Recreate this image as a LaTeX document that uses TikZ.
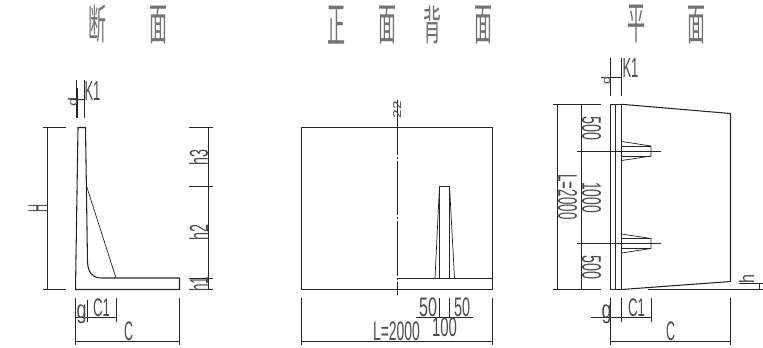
\documentclass[tikz,border=0pt]{standalone}
\usepackage{graphicx}
\usepackage{fontspec}
\setmainfont{Liberation Sans}
\newfontfamily\cjkfont{Noto Sans CJK SC}
\newdimen\cadpx
\cadpx=0.75pt
% width, height in reference pixels, then the text
\newcommand{\cadtext}[3]{\resizebox*{#1\cadpx}{#2\cadpx}{#3}}
\newcommand{\cadtitle}[1]{\resizebox*{18\cadpx}{38\cadpx}{\cjkfont #1}}
\tikzset{
  cadline/.style={line width=0.55pt,black!85},
  cadbold/.style={line width=0.8pt,black!85},
  cadcenter/.style={line width=0.55pt,black!85,dash pattern=on 41pt off 1.5pt on 1.5pt off 1.5pt},
  cadlabel/.style={inner sep=0pt,outer sep=0pt,text=black!70},
  cadhead/.style={inner sep=0pt,outer sep=0pt,text=black!55},
}
\begin{document}
\begin{tikzpicture}[x=0.75pt,y=-0.75pt]
\useasboundingbox (0,0) rectangle (763,347);
% titles
\node[cadhead] (titleA) at (97,24) {\cadtitle{断}};
\node[cadhead] (titleB) at (158,25) {\cadtitle{面}};
\node[cadhead] (titleC) at (336,25) {\cadtitle{正}};
\node[cadhead] (titleD) at (387,25) {\cadtitle{面}};
\node[cadhead] (titleE) at (432,25) {\cadtitle{背}};
\node[cadhead] (titleF) at (483,25) {\cadtitle{面}};
\node[cadhead] (titleG) at (636,24) {\cadtitle{平}};
\node[cadhead] (titleH) at (696,25) {\cadtitle{面}};
% section
\draw[cadbold] (78,127.5) -- (85.5,127.5) -- (87.5,262)
 .. controls (88,272) and (92,278) .. (102,278)
 -- (179.5,278) -- (179.5,289.5) -- (75.5,289.5) -- cycle;
\draw[cadline] (86.5,186) -- (116,278);
% section dimensions
\draw[cadline] (76,80) -- (76,118);
\draw[cadline] (77,88) -- (77,118);
\draw[cadline] (84.5,80) -- (84.5,118);
\draw[cadline] (70,99.5) -- (84.5,99.5);
\node[cadlabel,rotate=90] (dA) at (72.5,102) {\cadtext{9}{9}{d}};
\node[cadlabel] (kA) at (92.5,91) {\cadtext{16}{19}{K1}};
\draw[cadline] (43,127.5) -- (66,127.5);
\draw[cadline] (43,289.5) -- (66,289.5);
\draw[cadline] (47,127.5) -- (47,289.5);
\node[cadlabel,rotate=90] (hA) at (38,208.5) {\cadtext{8}{19}{H}};
\draw[cadline] (208.5,127.5) -- (208.5,289.5);
\draw[cadline] (189,127.5) -- (213,127.5);
\draw[cadline] (189,186) -- (213,186);
\draw[cadline] (189,278) -- (213,278);
\draw[cadline] (189,289.5) -- (213,289.5);
\node[cadlabel,rotate=90] (hThree) at (198.5,157.5) {\cadtext{16}{19}{h3}};
\node[cadlabel,rotate=90] (hTwo) at (198.5,232.5) {\cadtext{16}{19}{h2}};
\node[cadlabel,rotate=90] (hOne) at (198.5,284) {\cadtext{15}{19}{h1}};
\draw[cadline] (75.5,298) -- (75.5,345);
\draw[cadline] (87,300) -- (87,322);
\draw[cadline] (116,298) -- (116,322);
\draw[cadline] (179.5,298) -- (179.5,345);
\draw[cadline] (75.5,317.5) -- (116,317.5);
\draw[cadline] (75.5,341) -- (179.5,341);
\node[cadlabel] (gA) at (81.5,314) {\cadtext{10}{19}{g}};
\node[cadlabel] (cOneA) at (101.5,308) {\cadtext{17}{18}{C1}};
\node[cadlabel] (cA) at (128.5,331.5) {\cadtext{9}{19}{C}};
% front and back
\draw[cadbold] (301.5,127.5) rectangle (492.5,289.5);
\draw[cadline] (397,278) -- (492.5,278);
\draw[cadcenter] (397,100) -- (397,295);
\draw[cadline] (439.5,278) -- (439.5,186) -- (449.5,186) -- (449.5,278);
\draw[cadline] (435,278) -- (439.5,186);
\draw[cadline] (454.5,278) -- (449.5,186);
\node[cadlabel,rotate=90] (markA) at (397,109.5) {\cadtext{17}{8}{22}};
% front and back dimensions
\draw[cadline] (301.5,298) -- (301.5,345);
\draw[cadline] (492.5,298) -- (492.5,345);
\draw[cadline] (301.5,341) -- (492.5,341);
\draw[cadline] (416,317.5) -- (473,317.5);
\draw[cadline] (439.5,298) -- (439.5,318);
\draw[cadline] (449.5,298) -- (449.5,318);
\node[cadlabel] (fiftyA) at (428,307.5) {\cadtext{18}{19}{50}};
\node[cadlabel] (fiftyB) at (462,307.5) {\cadtext{16}{19}{50}};
\node[cadlabel] (hundredA) at (444.5,327.5) {\cadtext{25}{19}{100}};
\node[cadlabel] (lengthA) at (396.5,331.5) {\cadtext{47}{19}{L=2000}};
% plan
\draw[cadbold] (621.7,104.3) -- (730.5,113.5) -- (730.5,281.5) -- (621.7,289.5);
\draw[cadbold] (610.3,104.3) -- (610.3,289.5);
\draw[cadline] (615.7,104.3) -- (615.7,289.5);
\draw[cadbold] (621.7,104.3) -- (621.7,289.5);
\draw[cadline] (610.3,104.3) -- (621.7,104.3);
\draw[cadline] (610.3,289.5) -- (621.7,289.5);
\foreach \ribpos in {151,243.5} {
  \draw[cadline] (577,\ribpos) -- (661,\ribpos);
  \draw[cadline] (621.7,\ribpos-9.5) -- (651,\ribpos-5) -- (651,\ribpos+5) -- (621.7,\ribpos+9.5);
  \draw[cadline] (621.7,\ribpos-5) -- (651,\ribpos-5);
  \draw[cadline] (621.7,\ribpos+5) -- (651,\ribpos+5);
}
% plan dimensions
\draw[cadline] (553,104.3) -- (601,104.3);
\draw[cadline] (553,289.5) -- (601,289.5);
\draw[cadline] (557.7,104.3) -- (557.7,289.5);
\draw[cadline] (581.7,104.3) -- (581.7,289.5);
\node[cadlabel,rotate=-90] (lengthB) at (567.5,197) {\cadtext{45}{19}{L=2000}};
\node[cadlabel,rotate=-90] (fiveA) at (591.5,128) {\cadtext{24}{19}{500}};
\node[cadlabel,rotate=-90] (thousand) at (591.5,197.5) {\cadtext{31}{19}{1000}};
\node[cadlabel,rotate=-90] (fiveB) at (591.5,267) {\cadtext{24}{19}{500}};
\draw[cadline] (610.3,58) -- (610.3,96);
\draw[cadline] (621.7,58) -- (621.7,96);
\draw[cadline] (601,77) -- (621.7,77);
\node[cadlabel,rotate=90] (dB) at (606,80) {\cadtext{8}{9}{d}};
\node[cadlabel] (kB) at (630.5,68) {\cadtext{16}{19}{K1}};
\draw[cadline] (610.3,298) -- (610.3,345);
\draw[cadline] (621.7,298) -- (621.7,322);
\draw[cadline] (651,298) -- (651,322);
\draw[cadline] (730.5,298) -- (730.5,345);
\draw[cadline] (591,317.5) -- (651,317.5);
\draw[cadline] (610.3,341) -- (730.5,341);
\node[cadlabel] (gB) at (606.5,314) {\cadtext{10}{19}{g}};
\node[cadlabel] (cOneB) at (636.5,308) {\cadtext{17}{18}{C1}};
\node[cadlabel] (cB) at (670.5,331.5) {\cadtext{9}{19}{C}};
% slope note
\draw[cadline] (648,289.5) -- (763,289.5);
\draw[cadline] (739,283) -- (763,283);
\draw[cadline] (759,283) -- (759,289.5);
\node[cadlabel,rotate=90] (hB) at (746.5,278.5) {\cadtext{9}{15}{h}};
\end{tikzpicture}
\end{document}
